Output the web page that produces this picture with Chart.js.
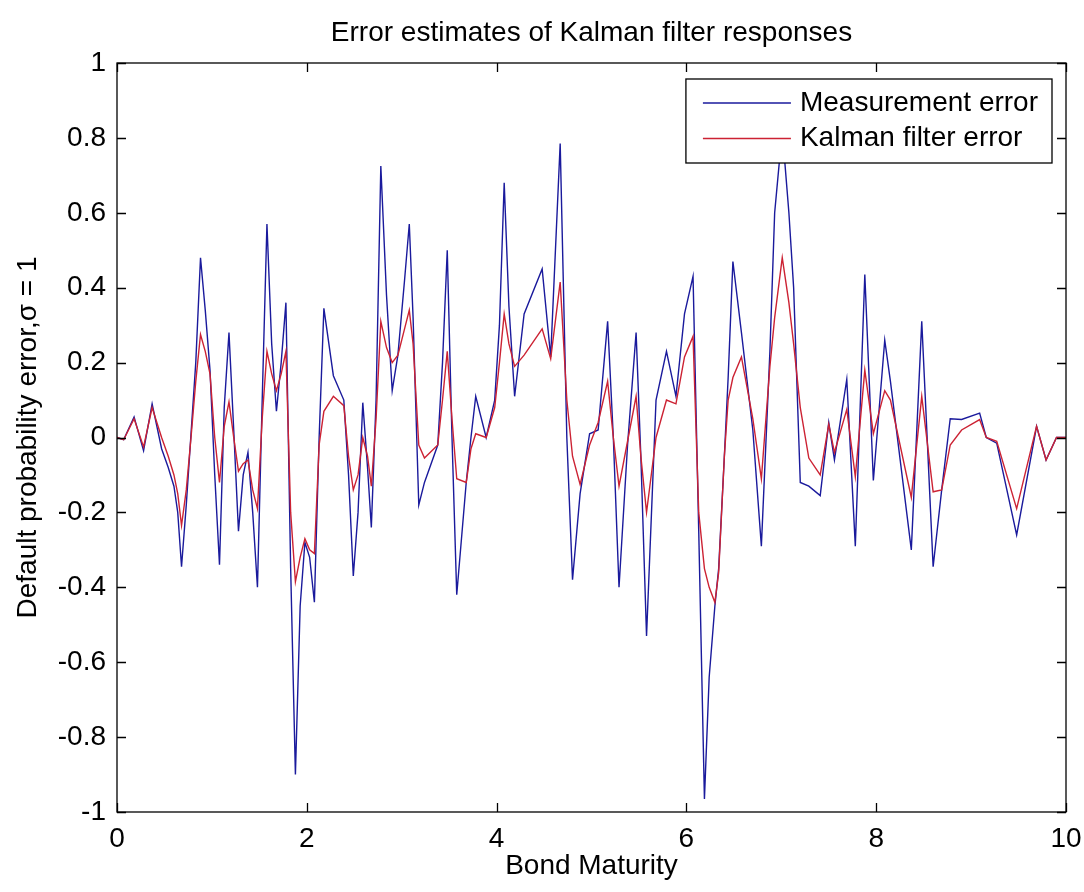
<!DOCTYPE html>
<html>
<head>
<meta charset="utf-8">
<title>Error estimates of Kalman filter responses</title>
<script src="https://cdn.jsdelivr.net/npm/chart.js@4.4.1/dist/chart.umd.min.js"></script>
<style>
  html, body { margin: 0; padding: 0; background: #fff; }
  canvas { display: block; }
</style>
</head>
<body>
<canvas id="myChart" width="1084" height="892"></canvas>
<script>
'use strict';

// bond maturities (shared x values of both curves)
const maturity = [
  0, 0.07, 0.18, 0.28, 0.37, 0.47, 0.54, 0.60, 0.64, 0.68,
  0.73, 0.78, 0.83, 0.88, 0.93, 0.98, 1.03, 1.08, 1.13, 1.18,
  1.23, 1.28, 1.33, 1.38, 1.43, 1.48, 1.53, 1.58, 1.63, 1.68,
  1.73, 1.78, 1.83, 1.88, 1.93, 1.98, 2.03, 2.08, 2.13, 2.18,
  2.28, 2.39, 2.44, 2.49, 2.54, 2.59, 2.64, 2.68, 2.73, 2.78,
  2.84, 2.90, 2.96, 3.03, 3.08, 3.12, 3.18, 3.24, 3.38, 3.43,
  3.48, 3.53, 3.58, 3.68, 3.73, 3.78, 3.89, 3.98, 4.03, 4.08,
  4.13, 4.19, 4.29, 4.48, 4.57, 4.67, 4.74, 4.80, 4.88, 4.98,
  5.07, 5.17, 5.23, 5.29, 5.38, 5.47, 5.52, 5.58, 5.68, 5.79,
  5.89, 5.98, 6.07, 6.13, 6.19, 6.24, 6.30, 6.34, 6.40, 6.44,
  6.49, 6.58, 6.70, 6.79, 6.88, 6.93, 7.01, 7.08, 7.13, 7.20,
  7.29, 7.41, 7.50, 7.56, 7.69, 7.78, 7.88, 7.97, 8.09, 8.15,
  8.37, 8.48, 8.60, 8.69, 8.78, 8.90, 9.09, 9.16, 9.27, 9.48,
  9.69, 9.79, 9.90, 10.0
];

const measurementError = [
  0, -0.006, 0.055, -0.035, 0.09, -0.03, -0.08, -0.13, -0.2, -0.345,
  -0.18, 0.01, 0.2, 0.48, 0.34, 0.18, -0.1, -0.34, 0.08, 0.28,
  0.02, -0.25, -0.1, -0.04, -0.2, -0.40, 0.1, 0.57, 0.25, 0.07,
  0.2, 0.36, -0.35, -0.90, -0.45, -0.28, -0.32, -0.44, 0.0, 0.345,
  0.165, 0.10, -0.1, -0.37, -0.2, 0.093, -0.08, -0.24, 0.1, 0.725,
  0.38, 0.125, 0.22, 0.42, 0.57, 0.32, -0.18, -0.12, -0.02, 0.2,
  0.5, 0.0, -0.42, -0.12, 0.0, 0.11, 0.0, 0.1, 0.3, 0.68,
  0.35, 0.11, 0.33, 0.45, 0.215, 0.785, 0.0, -0.38, -0.15, 0.01,
  0.02, 0.31, 0.0, -0.40, -0.02, 0.28, -0.05, -0.53, 0.10, 0.23,
  0.11, 0.33, 0.43, -0.25, -0.965, -0.64, -0.45, -0.35, -0.05, 0.16,
  0.47, 0.28, 0.02, -0.29, 0.23, 0.6, 0.82, 0.6, 0.4, -0.12,
  -0.13, -0.155, 0.04, -0.06, 0.155, -0.29, 0.435, -0.115, 0.26, 0.15,
  -0.30, 0.31, -0.345, -0.14, 0.05, 0.048, 0.065, 0.0, -0.015, -0.26,
  0.03, -0.06, 0.0, 0.0
];

const kalmanError = [
  0, -0.006, 0.05, -0.025, 0.08, 0.0, -0.05, -0.1, -0.15, -0.235,
  -0.14, 0.0, 0.15, 0.275, 0.23, 0.17, 0.0, -0.12, 0.03, 0.095,
  0.0, -0.09, -0.07, -0.06, -0.14, -0.19, 0.05, 0.23, 0.17, 0.125,
  0.17, 0.23, -0.2, -0.385, -0.32, -0.27, -0.3, -0.31, -0.02, 0.07,
  0.11, 0.085, -0.05, -0.14, -0.1, 0.0, -0.05, -0.13, 0.05, 0.31,
  0.24, 0.2, 0.22, 0.29, 0.34, 0.25, -0.02, -0.055, -0.02, 0.1,
  0.23, 0.05, -0.11, -0.12, -0.03, 0.01, 0.0, 0.08, 0.2, 0.33,
  0.25, 0.19, 0.22, 0.29, 0.21, 0.415, 0.1, -0.05, -0.125, -0.02,
  0.04, 0.15, 0.0, -0.13, -0.01, 0.11, -0.05, -0.2, 0.0, 0.10,
  0.09, 0.215, 0.27, -0.2, -0.35, -0.4, -0.44, -0.36, -0.05, 0.1,
  0.16, 0.215, 0.05, -0.11, 0.19, 0.32, 0.48, 0.36, 0.25, 0.08,
  -0.055, -0.1, 0.035, -0.04, 0.075, -0.105, 0.18, 0.01, 0.125, 0.1,
  -0.16, 0.11, -0.145, -0.14, -0.02, 0.02, 0.048, 0.0, -0.01, -0.19,
  0.03, -0.06, 0.0, 0.0
];

const seriesLabels = ['Measurement error', 'Kalman filter error'];
const xTickStep = 2;
const yTickStep = 0.2;

const BLUE = '#1a1a9c';
const RED = '#cc2233';
const FONT_SIZE = 28;
const TICK_LEN = 9;

Chart.defaults.font.family = '"Liberation Sans", Arial, Helvetica, sans-serif';
Chart.defaults.color = '#000';

const toPoints = values => maturity.map((m, i) => ({ x: m, y: values[i] }));

// MATLAB style box: frame, inward ticks on all sides, legend inside the axes
const matlabAxes = {
  id: 'matlabAxes',
  afterDatasetsDraw(chart) {
    const { ctx, chartArea: a, scales: { x, y } } = chart;
    ctx.save();
    ctx.strokeStyle = '#000';
    ctx.lineWidth = 1.3;
    ctx.strokeRect(a.left, a.top, a.right - a.left, a.bottom - a.top);

    ctx.beginPath();
    x.ticks.forEach(t => {
      const px = Math.round(x.getPixelForValue(t.value)) + 0.5;
      ctx.moveTo(px, a.bottom); ctx.lineTo(px, a.bottom - TICK_LEN);
      ctx.moveTo(px, a.top); ctx.lineTo(px, a.top + TICK_LEN);
    });
    y.ticks.forEach(t => {
      const py = Math.round(y.getPixelForValue(t.value)) + 0.5;
      ctx.moveTo(a.left, py); ctx.lineTo(a.left + TICK_LEN, py);
      ctx.moveTo(a.right, py); ctx.lineTo(a.right - TICK_LEN, py);
    });
    ctx.stroke();

    // legend
    ctx.font = FONT_SIZE + 'px ' + Chart.defaults.font.family;
    const sets = chart.data.datasets;
    const textW = Math.max(...sets.map(d => ctx.measureText(d.label).width));
    const boxW = 114 + textW + 14;
    const boxH = 84;
    const bx = a.right - 14 - boxW;
    const by = a.top + 16;
    ctx.fillStyle = '#fff';
    ctx.fillRect(bx, by, boxW, boxH);
    ctx.lineWidth = 1.3;
    ctx.strokeRect(bx, by, boxW, boxH);
    ctx.textBaseline = 'middle';
    ctx.textAlign = 'left';
    sets.forEach((d, i) => {
      const ry = by + 24 + i * 35.5;
      ctx.strokeStyle = d.borderColor;
      ctx.lineWidth = 1.4;
      ctx.beginPath();
      ctx.moveTo(bx + 17, ry);
      ctx.lineTo(bx + 105, ry);
      ctx.stroke();
      ctx.fillStyle = '#000';
      ctx.fillText(d.label, bx + 114, ry);
    });
    ctx.restore();
  }
};

const ctx = document.getElementById('myChart');
const myChart = new Chart(ctx, {
  type: 'line',
  data: {
    datasets: [{
      label: seriesLabels[0],
      data: toPoints(measurementError),
      borderColor: BLUE,
      borderWidth: 1.4,
      pointRadius: 0,
      tension: 0,
      order: 1,
    }, {
      label: seriesLabels[1],
      data: toPoints(kalmanError),
      borderColor: RED,
      borderWidth: 1.4,
      pointRadius: 0,
      tension: 0,
      order: 0,
    }]
  },
  options: {
    responsive: false,
    animation: false,
    layout: { padding: { right: 18 } },
    plugins: {
      legend: { display: false },
      tooltip: { enabled: false },
      title: {
        display: true,
        fullSize: false,
        text: 'Error estimates of Kalman filter responses',
        color: '#000',
        font: { size: FONT_SIZE, weight: 'normal' },
        padding: { top: 16, bottom: 13.4 },
      },
    },
    scales: {
      x: {
        type: 'linear',
        min: 0,
        max: 10,
        grid: { display: false, drawTicks: false },
        border: { display: false },
        ticks: {
          stepSize: xTickStep,
          maxRotation: 0,
          padding: 10,
          color: '#000',
          font: { size: FONT_SIZE },
        },
        title: {
          display: true,
          text: 'Bond Maturity',
          color: '#000',
          font: { size: FONT_SIZE },
          padding: { top: 0, bottom: 9 },
        },
        afterFit(scale) {
          scale.height = 80;
          scale.paddingLeft = 0;
          scale.paddingRight = 0;
        },
      },
      y: {
        type: 'linear',
        min: -1,
        max: 1,
        grid: { display: false, drawTicks: false },
        border: { display: false },
        ticks: {
          stepSize: yTickStep,
          padding: 11,
          color: '#000',
          font: { size: FONT_SIZE },
          callback: v => String(+v.toFixed(1)),
        },
        title: {
          display: true,
          text: 'Default probability error,σ = 1',
          color: '#000',
          font: { size: FONT_SIZE },
          padding: { top: 11, bottom: 0 },
        },
        afterFit(scale) { scale.width = 117; },
      },
    },
  },
  plugins: [matlabAxes],
});
</script>
</body>
</html>
